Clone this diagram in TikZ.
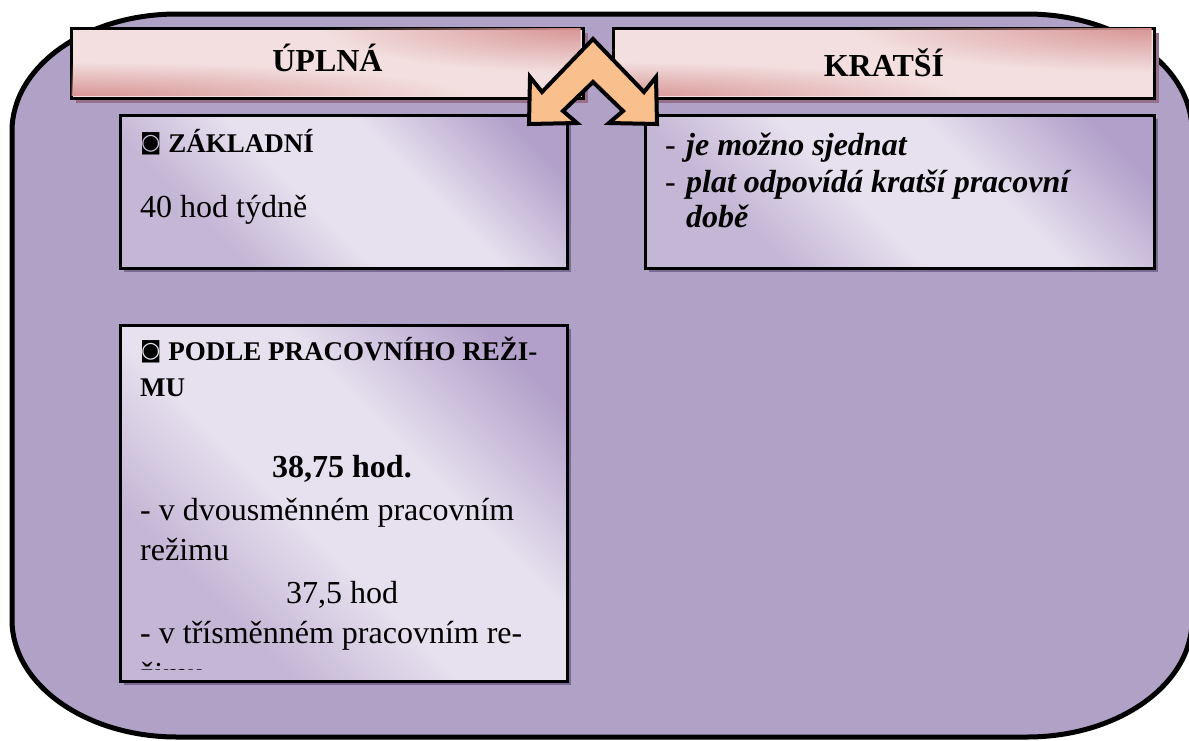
\documentclass[tikz,border=0pt]{standalone}
\usepackage{fontspec}
\setmainfont{Liberation Serif}
\newfontfamily\symfont{DejaVu Sans}
\usetikzlibrary{shadows,fadings}
\definecolor{bgpur}{RGB}{176,161,199}
\definecolor{lavlight}{RGB}{231,225,239}
\definecolor{lavmid}{RGB}{196,182,213}
\definecolor{lavdark}{RGB}{178,160,202}
\definecolor{pinklight}{RGB}{243,223,223}
\definecolor{pinkdark}{RGB}{216,148,148}
\definecolor{arroworange}{RGB}{249,192,142}
\definecolor{shadowpur}{RGB}{122,106,148}
\definecolor{shadowmauve}{RGB}{150,112,138}
\tikzfading[name=myglow, inner color=transparent!0, outer color=transparent!100]
\pgfdeclarehorizontalshading{lavband}{100bp}{color(0bp)=(lavmid); color(18bp)=(lavmid); color(30bp)=(lavmid); color(45bp)=(lavlight); color(60bp)=(lavlight); color(78bp)=(lavdark); color(100bp)=(lavdark)}
\newcommand\myHead{\fontsize{32}{38}\selectfont\bfseries}
\newcommand\myLab{\fontsize{27}{32}\selectfont\bfseries}
\newcommand\myBody{\fontsize{32}{38}\selectfont}
\newcommand\myBox{\raisebox{3pt}{\symfont\fontsize{22}{22}\selectfont ◙}}
\tikzset{
  hdr/.style={draw=black, line width=3pt, fill=pinklight,
    anchor=north west, inner sep=0pt,
    drop shadow={shadow xshift=4pt, shadow yshift=-4pt, fill=shadowmauve, opacity=1}},
  glow/.style={fill=pinkdark, path fading=myglow},
  panel/.style={draw=black, line width=2.5pt, shading=lavband, shading angle=45,
    anchor=north west, inner sep=0pt,
    drop shadow={shadow xshift=4pt, shadow yshift=-4pt, fill=shadowpur, opacity=1}},
  txt/.style={inner sep=0pt, anchor=base west, text=black},
  ctxt/.style={inner sep=0pt, anchor=base, text=black},
  htxt/.style={inner sep=0pt, anchor=center, text=black},
  arrowsty/.style={draw=black, line width=4pt, fill=arroworange, line join=miter},
  bigshape/.style={draw=black, line width=5pt, fill=bgpur}
}
\begin{document}
\begin{tikzpicture}[x=1pt,y=-1pt]
\useasboundingbox (0,0) rectangle (1189,740);
\clip (0,0) rectangle (1189,740);
% big rounded background (elliptical corners)
\draw[bigshape] (12,131) .. controls (12,66.4) and (85.9,14) .. (177,14)
  -- (1027,14) .. controls (1118.1,14) and (1192,66.4) .. (1192,131)
  -- (1192,620) .. controls (1192,684.6) and (1118.1,737) .. (1027,737)
  -- (177,737) .. controls (85.9,737) and (12,684.6) .. (12,620) -- cycle;
% headers
\node[hdr, minimum width=512pt, minimum height=70pt] (uplna) at (70,27) {};
\node[hdr, minimum width=541pt, minimum height=70pt] (kratsi) at (612,27) {};
% header gradients (soft dark corners)
\begin{scope}
  \clip (71.5,28.5) rectangle (580.5,95.5);
  \fill[glow] (322,-18) rectangle (842,72);
  \fill[glow] (-330,62) rectangle (470,132);
\end{scope}
\begin{scope}
  \clip (613.5,28.5) rectangle (1151.5,95.5);
  \fill[glow] (853,-18) rectangle (1453,72);
  \fill[glow] (262,62) rectangle (962,132);
\end{scope}
\node[htxt] (uplnaT) at ([yshift=6pt]uplna.center) {\myHead ÚPLNÁ};
\node[htxt] (kratsiT) at ([yshift=1pt]kratsi.center) {\myHead KRATŠÍ};
% panels
\node[panel, minimum width=447pt, minimum height=153pt] (zakl) at (119,114) {};
\node[panel, minimum width=509pt, minimum height=153pt] (kbox) at (644,114) {};
\node[panel, minimum width=447pt, minimum height=356pt] (podle) at (119,324) {};
% double arrow
\draw[arrowsty] (593,39) -- (542,92) -- (530,77) -- (529,124) -- (577,123) -- (563,111)
  -- (593,82) -- (623,111) -- (609,123) -- (657,124) -- (656,77) -- (644,92) -- cycle;
% texts: ZAKLADNI
\node[txt] (z1) at (140,152) {\myLab\myBox\ ZÁKLADNÍ};
\node[txt] (z2) at (140,217) {\myBody 40 hod týdně};
% texts: KRATSI
\node[txt] (k1) at (665,155) {\myBody\makebox[21pt][l]{-}\bfseries\itshape je možno sjednat};
\node[txt] (k2) at (665,192) {\myBody\makebox[21pt][l]{-}\bfseries\itshape plat odpovídá kratší pracovní};
\node[txt] (k3) at (686,227) {\myBody\bfseries\itshape době};
% texts: PODLE
\node[txt] (p1) at (140,360) {\myLab\myBox\ PODLE PRACOVNÍHO REŽI-};
\node[txt] (p2) at (140,396) {\myLab MU};
\node[ctxt] (p3) at (342,477) {\myBody\bfseries 38,75 hod.};
\node[txt] (p4) at (140,520) {\myBody - v dvousměnném pracovním};
\node[txt] (p5) at (140,560) {\myBody režimu};
\node[ctxt] (p6) at (342,603) {\myBody 37,5 hod};
\node[txt] (p7) at (140,643) {\myBody - v třísměnném pracovním re-};
\begin{scope}
\clip (121,326) rectangle (565,669);
\node[txt] (p8) at (140,684) {\myBody žimu};
\end{scope}
\end{tikzpicture}
\end{document}
